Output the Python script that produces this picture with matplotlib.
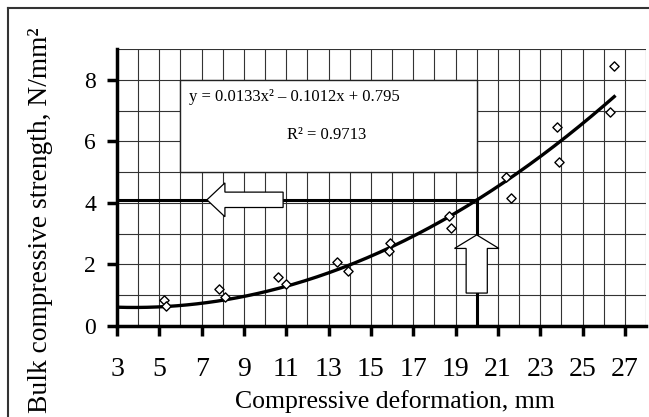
import matplotlib.pyplot as plt
import matplotlib.patches as mpatches
import numpy as np

plt.rcParams['font.family'] = ['Liberation Serif', 'DejaVu Serif']

# measured points
deform = [5.2, 5.3, 7.8, 8.1, 10.6, 11.0, 13.4, 13.9, 15.9, 15.85,
          18.7, 18.8, 21.4, 21.6, 23.8, 23.9, 26.3, 26.5]
strength = [0.84, 0.65, 1.2, 0.95, 1.58, 1.38, 2.08, 1.8, 2.7, 2.45,
            3.58, 3.19, 4.85, 4.16, 6.47, 5.33, 6.96, 8.46]

# trendline from the chart legend
coefs = [0.0133, -0.1012, 0.795]
x_fit = np.linspace(3, 26.5, 200)
y_fit = np.polyval(coefs, x_fit)

target_x = 20
target_y = 4.1

xticks = [3, 5, 7, 9, 11, 13, 15, 17, 19, 21, 23, 25, 27]
yticks = [0, 2, 4, 6, 8]

fig = plt.figure(figsize=(6.49, 4.17), dpi=100)
ax = fig.add_axes([117 / 649, 91 / 417, 529 / 649, 277 / 417])

# outer frame (top and left)
fig.add_artist(plt.Line2D([8 / 649, 1], [1 - 8 / 417, 1 - 8 / 417],
                          transform=fig.transFigure, color='#333', lw=1.5))
fig.add_artist(plt.Line2D([8 / 649, 8 / 649], [0, 1 - 8 / 417],
                          transform=fig.transFigure, color='#333', lw=1.5))

ax.set_xlim(3, 28)
ax.set_ylim(0, 9)
for gx in range(4, 29):
    ax.axvline(gx, color='#333', lw=0.8, zorder=1)
for gy in range(1, 10):
    ax.axhline(gy, color='#333', lw=0.8, zorder=1)

# equation box
ax.add_patch(mpatches.Rectangle((6, 5), 14, 3, facecolor='white',
                                edgecolor='#222', lw=1.0, zorder=2))
ax.text(6.4, 7.45, 'y = 0.0133x² – 0.1012x + 0.795', fontsize=12,
        va='center', ha='left', zorder=3)
ax.text(12.9, 6.2, 'R² = 0.9713', fontsize=12, va='center',
        ha='center', zorder=3)

# guide lines
ax.plot([3, target_x], [target_y, target_y], color='black', lw=2.2, zorder=3)
ax.plot([target_x, target_x], [0, target_y], color='black', lw=2.2, zorder=3)

# arrows
left_arrow = mpatches.Polygon([(7.25, 4.1), (8.1, 4.65), (8.1, 4.35), (10.85, 4.35),
                               (10.85, 3.85), (8.1, 3.85), (8.1, 3.55)],
                              closed=True, facecolor='white', edgecolor='black',
                              lw=0.9, zorder=4)
ax.add_patch(left_arrow)
up_arrow = mpatches.Polygon([(20, 2.96), (21.05, 2.52), (20.5, 2.52), (20.5, 1.07),
                             (19.5, 1.07), (19.5, 2.52), (18.95, 2.52)],
                            closed=True, facecolor='white', edgecolor='black',
                            lw=0.9, zorder=4)
ax.add_patch(up_arrow)

ax.plot(x_fit, y_fit, color='black', lw=2.4, zorder=5)
ax.scatter(deform, strength, marker='D', s=22, facecolor='white',
           edgecolor='black', linewidths=1.0, zorder=6)

for s in ['top', 'right']:
    ax.spines[s].set_visible(False)
ax.spines['left'].set_linewidth(2.5)
ax.spines['bottom'].set_linewidth(2.5)
ax.spines['left'].set_zorder(7)
ax.spines['bottom'].set_zorder(7)

ax.set_xticks(xticks)
ax.set_yticks(yticks)
ax.tick_params(axis='both', direction='out', length=7, width=2.5)
ax.tick_params(axis='x', labelsize=20, pad=15)
ax.tick_params(axis='y', labelsize=17, pad=8)
ax.set_xlabel('Compressive deformation, mm', fontsize=18.5)
ax.set_ylabel('Bulk compressive strength, N/mm²', fontsize=19.8)
ax.xaxis.set_label_coords(0.5255, -0.232)
ax.yaxis.set_label_coords(-0.121, 0.383)

fig.savefig('out.png', dpi=100)
